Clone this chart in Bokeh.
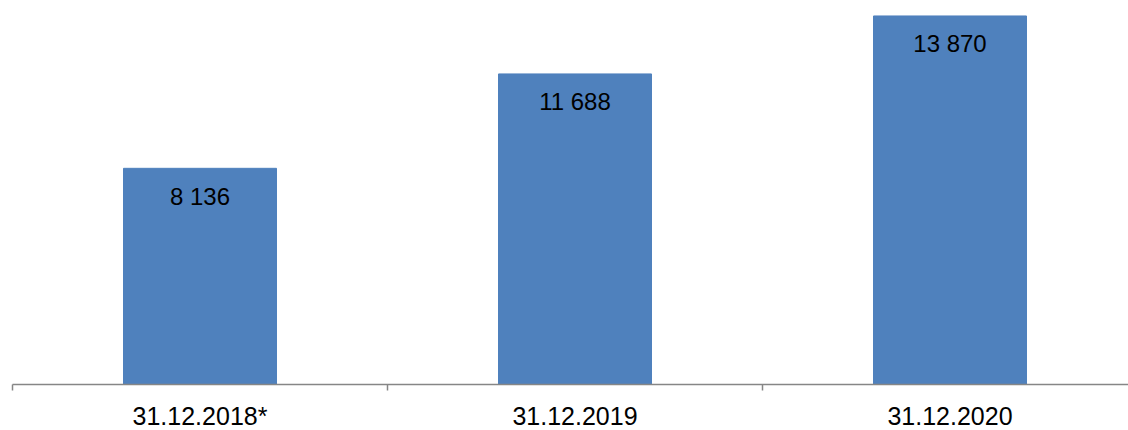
from bokeh.plotting import figure
from bokeh.models import ColumnDataSource, FixedTicker, Range1d
from bokeh.core.properties import value
from bokeh.embed import file_html
from bokeh.resources import INLINE

categories = ["31.12.2018*", "31.12.2019", "31.12.2020"]
values = [8136, 11688, 13870]
value_labels = ["8 136", "11 688", "13 870"]

x_pos = [i + 0.5 for i in range(len(categories))]
src = ColumnDataSource(dict(x=x_pos, top=values, label=value_labels))

p = figure(width=1128, height=434, output_backend="svg", toolbar_location=None,
           x_range=Range1d(0, 1116 / 375.0), y_range=Range1d(0, 14000),
           y_axis_location=None, min_border_left=12, min_border_right=0,
           min_border_top=12, min_border_bottom=50)
p.outline_line_color = None
p.xgrid.visible = False
p.ygrid.visible = False

p.vbar(x="x", top="top", width=0.408, bottom=0, source=src,
       fill_color="#4F81BD", line_color="#4F81BD")

p.text(x="x", y="top", text="label", source=src, text_align="center",
       text_baseline="alphabetic", y_offset=28,
       text_font=value("Liberation Sans"), text_font_size="24px", text_color="#000000")

ax = p.xaxis[0]
ax.ticker = FixedTicker(ticks=x_pos, minor_ticks=[0, 1, 2, 3])
ax.major_label_overrides = {x: c for x, c in zip(x_pos, categories)}
ax.major_tick_in = 0
ax.major_tick_out = 0
ax.minor_tick_in = 0
ax.minor_tick_out = 6
ax.axis_line_color = "#868686"
ax.axis_line_width = 1.5
ax.minor_tick_line_color = "#868686"
ax.minor_tick_line_width = 1.5
ax.major_label_text_font = "Liberation Sans"
ax.major_label_text_font_size = "25px"
ax.major_label_text_color = "#000000"
ax.major_label_standoff = 11

open("out.html", "w").write(file_html(p, INLINE))
